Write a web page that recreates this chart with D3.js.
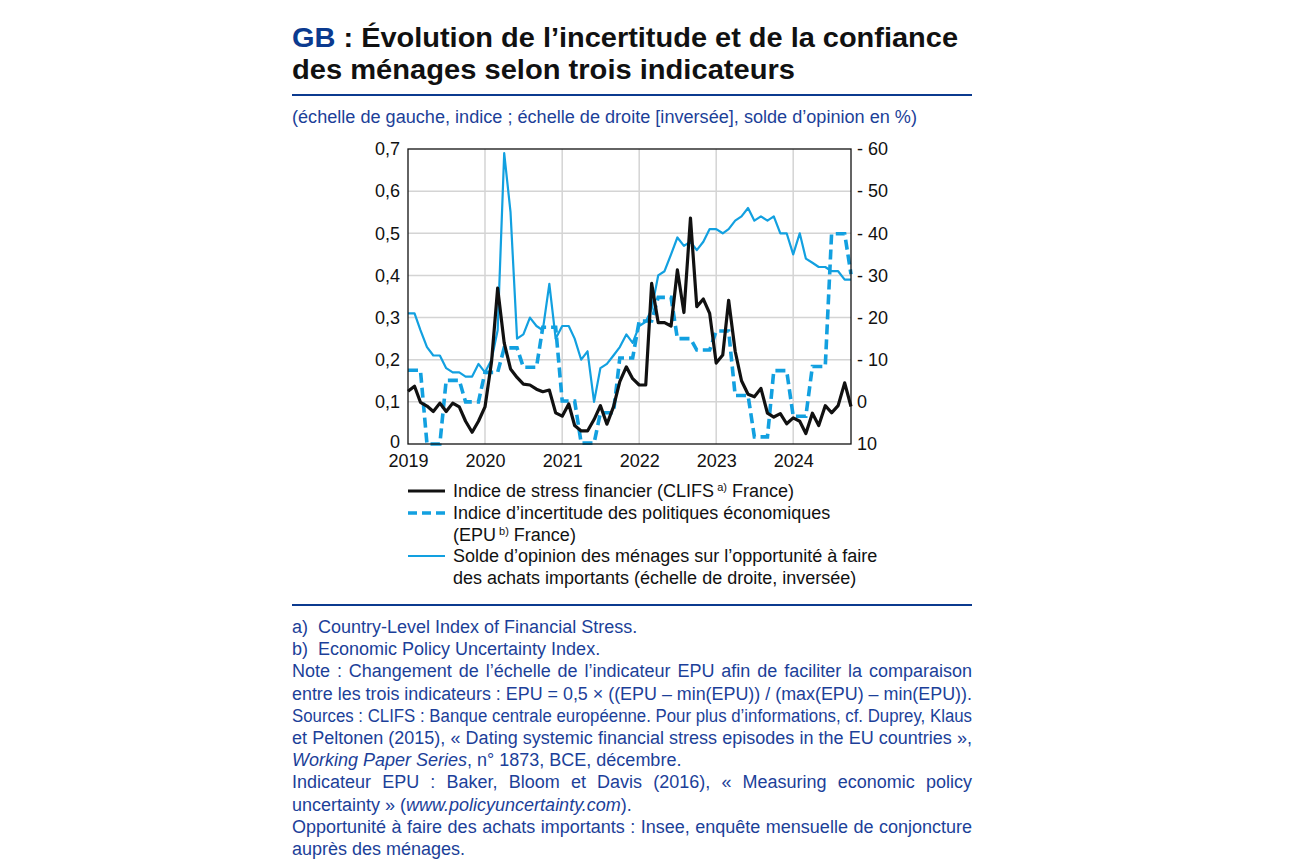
<!DOCTYPE html>
<html><head><meta charset="utf-8">
<script src="https://cdn.jsdelivr.net/npm/d3@7"></script>
<style>
body{margin:0;background:#fff;}
svg text{font-family:"Liberation Sans",Arial,sans-serif;}
</style></head>
<body><svg id="c" width="1300" height="866"></svg>
<script>
// ---- DATA ----
const startYear = 2019, nMonths = 70; // Jan 2019 .. Oct 2024
const clifs = [0.125,0.137,0.099,0.09,0.077,0.097,0.077,0.097,0.088,0.054,0.028,0.054,
 0.088,0.195,0.37,0.24,0.178,0.158,0.142,0.14,0.13,0.124,0.128,0.074,
 0.066,0.095,0.044,0.031,0.031,0.058,0.091,0.047,0.088,0.148,0.183,0.155,
 0.14,0.14,0.381,0.288,0.288,0.28,0.413,0.312,0.536,0.326,0.344,0.31,
 0.192,0.211,0.341,0.22,0.15,0.118,0.112,0.132,0.073,0.064,0.072,0.048,
 0.062,0.054,0.025,0.073,0.044,0.091,0.074,0.091,0.145,0.089];
const epu = [0.175,0.175,0.175,0,0,0,0.151,0.151,0.151,0.1,0.1,0.1,
 0.17,0.17,0.17,0.228,0.228,0.228,0.182,0.182,0.182,0.277,0.277,0.277,
 0.102,0.102,0.102,0.002,0.002,0.002,0.074,0.074,0.074,0.204,0.204,0.204,
 0.292,0.292,0.292,0.348,0.348,0.348,0.25,0.25,0.25,0.223,0.223,0.223,
 0.268,0.268,0.268,0.115,0.115,0.115,0.017,0.017,0.017,0.174,0.174,0.174,
 0.066,0.066,0.066,0.184,0.184,0.184,0.499,0.499,0.499,0.403];
const solde = [-21,-21,-17,-13,-11,-11,-8,-7,-7,-6,-6,-9,
 -7,-10,-17,-59,-45,-15,-16,-20,-18,-17,-28,-15,
 -18,-18,-15,-10,-12,0,-8,-9,-11,-13,-16,-14,
 -18,-19,-22,-30,-31,-35,-39,-37,-38,-36,-38,-41,
 -41,-40,-41,-43,-44,-46,-43,-44,-43,-44,-40,-40,
 -35,-40,-34,-33,-32,-32,-31,-31,-29,-29];
const yearLabels = ["2019","2020","2021","2022","2023","2024"];
const leftTicks = [0,0.1,0.2,0.3,0.4,0.5,0.6,0.7];
const rightTicks = [-60,-50,-40,-30,-20,-10,0,10];

const titleBlue = "#0b3a8f", noteBlue = "#1c3f99", lightBlue = "#12a0e0";

const svg = d3.select("#c");
const L = 408, R = 851, T = 149, B = 444;
const dates = d3.range(nMonths).map(i => new Date(startYear, i, 1));
const x = d3.scaleTime().domain([dates[0], dates[nMonths-1]]).range([L, R]);
const yL = d3.scaleLinear().domain([0, 0.7]).range([B, T]);
const yR = d3.scaleLinear().domain([10, -60]).range([B, T]);

// ---- Title ----
const t1 = svg.append("text").attr("x", 292).attr("y", 47)
  .style("font-family", "'Liberation Sans Narrow','Arial Narrow','Liberation Sans',Arial")
  .style("font-weight", "bold").style("font-size", "28px")
  .attr("textLength", 666).attr("lengthAdjust", "spacingAndGlyphs");
t1.append("tspan").attr("fill", titleBlue).text("GB");
t1.append("tspan").attr("fill", "#111").text(" : Évolution de l’incertitude et de la confiance");
svg.append("text").attr("x", 292).attr("y", 79)
  .style("font-family", "'Liberation Sans Narrow','Arial Narrow','Liberation Sans',Arial")
  .style("font-weight", "bold").style("font-size", "28px").attr("fill", "#111")
  .attr("textLength", 503).attr("lengthAdjust", "spacingAndGlyphs")
  .text("des ménages selon trois indicateurs");
svg.append("line").attr("x1", 292).attr("x2", 972).attr("y1", 95).attr("y2", 95)
  .attr("stroke", titleBlue).attr("stroke-width", 2);
svg.append("text").attr("x", 292).attr("y", 123).attr("fill", noteBlue)
  .style("font-size", "18px").attr("textLength", 625).attr("lengthAdjust", "spacingAndGlyphs")
  .text("(échelle de gauche, indice ; échelle de droite [inversée], solde d’opinion en %)");

// ---- Grid ----
const g = svg.append("g");
g.selectAll(".hg").data(leftTicks.slice(1, -1)).join("line")
  .attr("x1", L).attr("x2", R).attr("y1", d => yL(d)).attr("y2", d => yL(d))
  .attr("stroke", "#d4d4d4").attr("stroke-width", 1.5);
const yearDates = yearLabels.map(y => new Date(+y, 0, 1));
g.selectAll(".vg").data(yearDates.slice(1)).join("line")
  .attr("x1", d => x(d)).attr("x2", d => x(d)).attr("y1", T).attr("y2", B)
  .attr("stroke", "#d4d4d4").attr("stroke-width", 1.5);

// ---- Axes ----
const axL = svg.append("g").attr("transform", `translate(${L},0)`)
  .call(d3.axisLeft(yL).tickValues(leftTicks).tickSize(0).tickPadding(8)
    .tickFormat(d => d3.format(".1f")(d).replace(".", ",").replace(/^0,0$/, "0")));
const axR = svg.append("g").attr("transform", `translate(${R},0)`)
  .call(d3.axisRight(yR).tickValues(rightTicks).tickSize(0).tickPadding(8)
    .tickFormat(d => d < 0 ? "- " + Math.abs(d) : String(d)));
const axB = svg.append("g").attr("transform", `translate(0,${B})`)
  .call(d3.axisBottom(x).tickValues(yearDates).tickSize(0).tickPadding(10)
    .tickFormat((d, i) => yearLabels[i]));
[axL, axR, axB].forEach(a => {
  a.select(".domain").remove();
  a.selectAll("text").style("font-size", "18px").attr("fill", "#111")
    .style("font-family", "'Liberation Sans',Arial");
});
axR.selectAll("text").attr("x", 6);
axL.selectAll(".tick").filter(d => d === 0).select("text").attr("dy", "0.18em");

// ---- Series ----
const line = (arr, yS) => d3.line().x((d, i) => x(dates[i])).y(d => yS(d))(arr);
svg.append("path").attr("d", line(solde, yR)).attr("fill", "none")
  .attr("stroke", lightBlue).attr("stroke-width", 2.2).attr("stroke-linejoin", "round");
svg.append("path").attr("d", line(epu, yL)).attr("fill", "none")
  .attr("stroke", lightBlue).attr("stroke-width", 3.6).attr("stroke-dasharray", "10,5");
svg.append("path").attr("d", line(clifs, yL)).attr("fill", "none")
  .attr("stroke", "#111").attr("stroke-width", 3.2).attr("stroke-linejoin", "round");

// frame
svg.append("rect").attr("x", L).attr("y", T).attr("width", R - L).attr("height", B - T)
  .attr("fill", "none").attr("stroke", "#111").attr("stroke-width", 1.3);

// ---- Legend ----
const lg = svg.append("g");
const legItems = [
  {y: 491, stroke: "#111", w: 3.2, dash: null},
  {y: 513, stroke: lightBlue, w: 3.6, dash: "9,5"},
  {y: 556, stroke: lightBlue, w: 2.2, dash: null}
];
legItems.forEach(it => {
  lg.append("line").attr("x1", 408).attr("x2", 445).attr("y1", it.y).attr("y2", it.y)
    .attr("stroke", it.stroke).attr("stroke-width", it.w).attr("stroke-dasharray", it.dash);
});
const legText = (y) => lg.append("text").attr("x", 453).attr("y", y).attr("fill", "#111").style("font-size", "18px");
let lt = legText(497);
lt.append("tspan").text("Indice de stress financier (CLIFS");
lt.append("tspan").attr("dy", -6).style("font-size", "11px").text(" a)");
lt.append("tspan").attr("dy", 6).text(" France)");
legText(519).text("Indice d’incertitude des politiques économiques");
lt = legText(541);
lt.append("tspan").text("(EPU");
lt.append("tspan").attr("dy", -6).style("font-size", "11px").text(" b)");
lt.append("tspan").attr("dy", 6).text(" France)");
legText(562).text("Solde d’opinion des ménages sur l’opportunité à faire");
legText(584).text("des achats importants (échelle de droite, inversée)");

svg.append("line").attr("x1", 292).attr("x2", 972).attr("y1", 605).attr("y2", 605)
  .attr("stroke", titleBlue).attr("stroke-width", 2);

// ---- Footnotes ----
const notes = [
  {parts: [["a)\u00a0 Country-Level Index of Financial Stress.", false]], just: false},
  {parts: [["b)\u00a0 Economic Policy Uncertainty Index.", false]], just: false},
  {parts: [["Note : Changement de l’échelle de l’indicateur EPU afin de faciliter la comparaison", false]], just: true},
  {parts: [["entre les trois indicateurs : EPU = 0,5 × ((EPU – min(EPU)) / (max(EPU) – min(EPU)).", false]], just: true},
  {parts: [["Sources : CLIFS : Banque centrale européenne. Pour plus d’informations, cf. Duprey, Klaus", false]], just: true},
  {parts: [["et Peltonen (2015), « Dating systemic financial stress episodes in the EU countries »,", false]], just: true},
  {parts: [["Working Paper Series", true], [", n° 1873, BCE, décembre.", false]], just: false},
  {parts: [["Indicateur EPU : Baker, Bloom et Davis (2016), « Measuring economic policy", false]], just: true},
  {parts: [["uncertainty » (", false], ["www.policyuncertainty.com", true], [").", false]], just: false},
  {parts: [["Opportunité à faire des achats importants : Insee, enquête mensuelle de conjoncture", false]], just: true},
  {parts: [["auprès des ménages.", false]], just: false}
];
notes.forEach((n, i) => {
  const t = svg.append("text").attr("x", 292).attr("y", 633 + i * 22.2)
    .attr("fill", noteBlue).style("font-size", "18px");
  n.parts.forEach(p => t.append("tspan").style("font-style", p[1] ? "italic" : "normal").text(p[0]));
  if (n.just) {
    const w = t.node().getComputedTextLength();
    if (w > 680) {
      t.attr("textLength", 680).attr("lengthAdjust", "spacingAndGlyphs");
    } else {
      const spaces = (n.parts.map(p => p[0]).join("").match(/ /g) || []).length;
      t.attr("word-spacing", (680 - w) / spaces);
    }
  }
});
</script></body></html>
